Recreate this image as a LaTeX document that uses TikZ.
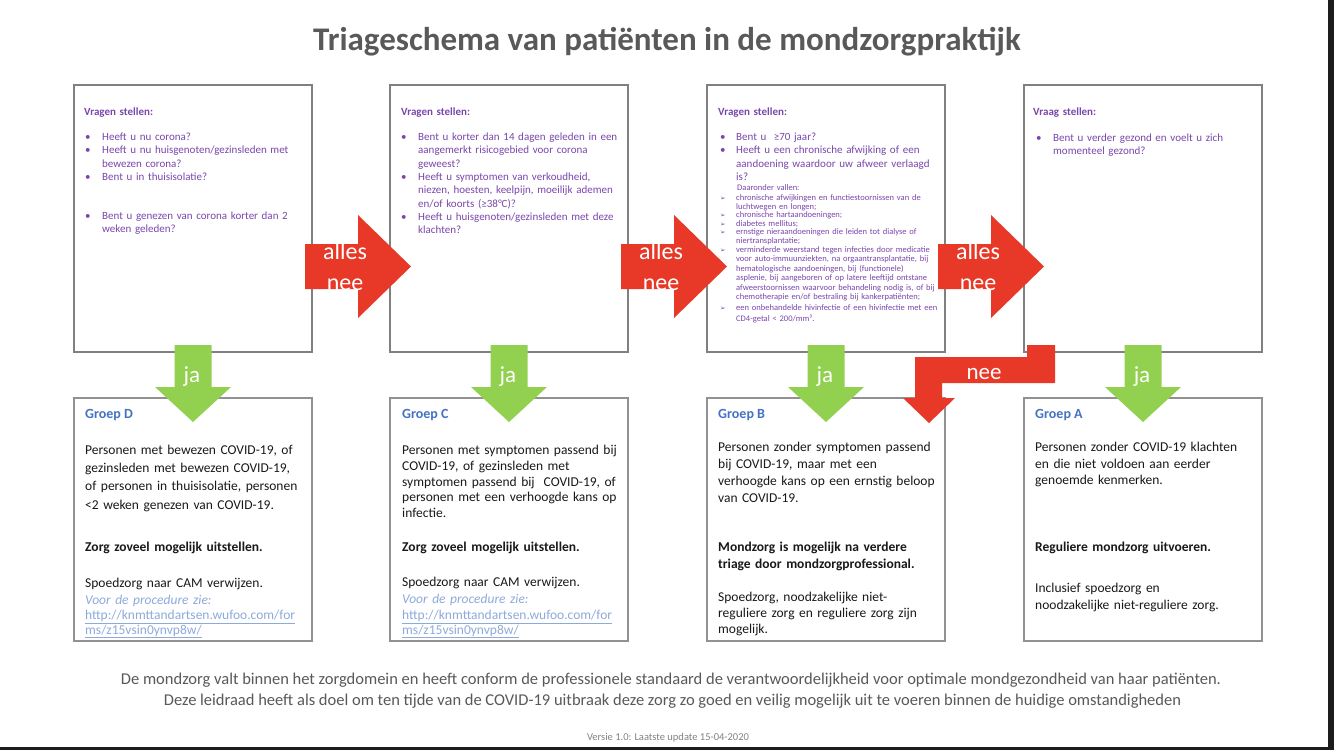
\documentclass[tikz,border=0pt]{standalone}
\usepackage{fontspec}
\setmainfont{Carlito}
\newfontfamily\dejavu{DejaVu Sans}
\definecolor{arrowred}{RGB}{232,56,40}
\definecolor{arrowgreen}{RGB}{146,208,80}
\definecolor{titlegray}{RGB}{89,89,89}
\definecolor{boxgray}{RGB}{128,128,128}
\definecolor{gboxgray}{RGB}{145,145,145}
\definecolor{qpurple}{RGB}{122,70,172}
\definecolor{groupblue}{RGB}{68,114,196}
\definecolor{bodytext}{RGB}{25,25,25}
\definecolor{linkblue}{RGB}{142,170,219}
\definecolor{versgray}{RGB}{130,130,130}
\definecolor{edgeblack}{RGB}{28,28,28}
\tikzset{
  qbox/.style={draw=boxgray, line width=2.2pt, inner sep=0pt},
  gbox/.style={draw=gboxgray, line width=1.5pt, inner sep=0pt},
  qtxt/.style={anchor=base west, inner sep=0pt, text width=260pt, align=left, text=qpurple, font=\fontsize{11}{13.3}\selectfont},
  qhead/.style={qtxt, font=\bfseries\fontsize{11}{13.3}\selectfont},
  smalltxt/.style={qtxt, font=\fontsize{8.5}{9}\selectfont},
  gtitle/.style={anchor=base west, inner sep=0pt, text=groupblue, font=\bfseries\fontsize{14}{16}\selectfont},
  gtxt/.style={anchor=base west, inner sep=0pt, text width=260pt, align=left, text=bodytext, font=\fontsize{13.5}{16}\selectfont},
  linktxt/.style={gtxt, text=linkblue, font=\fontsize{13.5}{14.5}\selectfont},
  arrowlbl/.style={anchor=base, inner sep=0pt, text=white, font=\fontsize{24}{28}\selectfont},
  foot/.style={anchor=base, inner sep=0pt, text=titlegray, font=\fontsize{16.5}{19}\selectfont},
}
\newcommand\qitem[5]{\node[qtxt] (#1b) at (#2,#4) {•}; \node[qtxt] (#1) at (#3,#4) {#5};}
\newcommand\sitem[6][9]{\node[smalltxt] (#2b) at (#3,#5) {{\dejavu\fontsize{6.5}{8}\selectfont ➢}}; \node[smalltxt, font=\fontsize{8.5}{#1}\selectfont] (#2) at (#4,#5) {#6};}
\newcommand\redright[1]{\fill[arrowred] (#1,244) -- ++(53,0) -- ++(0,-29) -- ++(53,51.5) -- ++(-53,51.5) -- ++(0,-29) -- ++(-53,0) -- cycle;}
\newcommand\greendown[1]{\fill[arrowgreen] (#1-18.5,345) -- (#1+18.5,345) -- (#1+18.5,387) -- (#1+38,387) -- (#1,422) -- (#1-38,387) -- (#1-18.5,387) -- cycle;}
\begin{document}
\begin{tikzpicture}[x=1pt,y=-1pt]
\useasboundingbox (0,0) rectangle (1334,750);
\fill[white] (0,0) rectangle (1334,750);
\fill[edgeblack] (0,747) rectangle (1334,750);
\fill[edgeblack] (1328,0) rectangle (1334,750);

% title
\node[font=\bfseries\fontsize{33}{38}\selectfont, text=titlegray, inner sep=0pt] (title) at (667,42) {Triageschema van patiënten in de mondzorgpraktijk};

% question boxes
\node[qbox, minimum width=238pt, minimum height=267pt] (q1) at (193,218.5) {};
\node[qbox, minimum width=238pt, minimum height=267pt] (q2) at (509,218.5) {};
\node[qbox, minimum width=238pt, minimum height=267pt] (q3) at (826,218.5) {};
\node[qbox, minimum width=238pt, minimum height=267pt] (q4) at (1143,218.5) {};
% group boxes
\node[gbox, minimum width=238pt, minimum height=243pt] (g1) at (193,519.5) {};
\node[gbox, minimum width=238pt, minimum height=243pt] (g2) at (509,519.5) {};
\node[gbox, minimum width=238pt, minimum height=243pt] (g3) at (826,519.5) {};
\node[gbox, minimum width=238pt, minimum height=243pt] (g4) at (1143,519.5) {};

% red "alles nee" arrows
\redright{305}
\redright{621}
\redright{938}
\node[arrowlbl] (r1a) at (345,259) {alles};
\node[arrowlbl] (r1n) at (345,290) {nee};
\node[arrowlbl] (r2a) at (661,259) {alles};
\node[arrowlbl] (r2n) at (661,290) {nee};
\node[arrowlbl] (r3a) at (978,259) {alles};
\node[arrowlbl] (r3n) at (978,290) {nee};

% green "ja" arrows
\greendown{193}
\greendown{509}
\greendown{826}
\greendown{1143}
\node[arrowlbl, font=\fontsize{23}{26}\selectfont] (j1) at (192,382) {ja};
\node[arrowlbl, font=\fontsize{23}{26}\selectfont] (j2) at (508,382) {ja};
\node[arrowlbl, font=\fontsize{23}{26}\selectfont] (j3) at (825,382) {ja};
\node[arrowlbl, font=\fontsize{23}{26}\selectfont] (j4) at (1142,382) {ja};

% bent red "nee" arrow
\fill[arrowred] (1055,345) -- (1055,383) -- (942,383) -- (942,398) -- (955,398) -- (929,423) -- (903,398) -- (915,398) -- (915,357) -- (1027,357) -- (1027,345) -- cycle;
\node[arrowlbl, font=\fontsize{23}{26}\selectfont] (nb) at (984,379) {nee};

% box 1
\node[qhead] (q1h) at (84,115.5) {Vragen stellen:};
\qitem{q1a}{85}{102}{140.5}{Heeft u nu corona?}
\qitem{q1b}{85}{102}{153.8}{Heeft u nu huisgenoten/gezinsleden met\\bewezen corona?}
\qitem{q1c}{85}{102}{180.5}{Bent u in thuisisolatie?}
\qitem{q1d}{85}{102}{219.5}{Bent u genezen van corona korter dan 2\\weken geleden?}

% box 2
\node[qhead] (q2h) at (401,115.5) {Vragen stellen:};
\qitem{q2a}{401}{418}{140.5}{Bent u korter dan 14 dagen geleden in een\\aangemerkt risicogebied voor corona\\geweest?}
\qitem{q2b}{401}{418}{180.5}{Heeft u symptomen van verkoudheid,\\niezen, hoesten, keelpijn, moeilijk ademen\\en/of koorts (≥38°C)?}
\qitem{q2c}{401}{418}{220.5}{Heeft u huisgenoten/gezinsleden met deze\\klachten?}

% box 3
\node[qhead] (q3h) at (718,115.5) {Vragen stellen:};
\qitem{q3a}{720}{736}{140.5}{Bent u\ \ ≥70 jaar?}
\qitem{q3b}{720}{736}{153.8}{Heeft u een chronische afwijking of een\\aandoening waardoor uw afweer verlaagd\\is?}
\node[smalltxt] (q3s) at (737,190.5) {Daaronder vallen:};
\sitem{q3s1}{720}{736}{200.5}{chronische afwijkingen en functiestoornissen van de\\luchtwegen en longen;}
\sitem{q3s2}{720}{736}{217.5}{chronische hartaandoeningen;}
\sitem{q3s3}{720}{736}{226}{diabetes mellitus;}
\sitem{q3s4}{720}{736}{234.5}{ernstige nieraandoeningen die leiden tot dialyse of\\niertransplantatie;}
\sitem[9.4]{q3s5}{720}{736}{252.5}{verminderde weerstand tegen infecties door medicatie\\voor auto-immuunziekten, na orgaantransplantatie, bij\\hematologische aandoeningen, bij (functionele)\\asplenie, bij aangeboren of op latere leeftijd ontstane\\afweerstoornissen waarvoor behandeling nodig is, of bij\\chemotherapie en/of bestraling bij kankerpatiënten;}
\sitem[11]{q3s6}{720}{736}{310.5}{een onbehandelde hivinfectie of een hivinfectie met een\\CD4-getal < 200/mm³.}

% box 4
\node[qhead] (q4h) at (1033,115.5) {Vraag stellen:};
\qitem{q4a}{1036}{1053}{141.5}{Bent u verder gezond en voelt u zich\\momenteel gezond?}

% Groep D
\node[gtitle] (gDh) at (85,418.5) {Groep D};
\node[gtxt, font=\fontsize{13.5}{18.2}\selectfont] (gD1) at (85,454.5) {Personen met bewezen COVID-19, of\\gezinsleden met bewezen COVID-19,\\of personen in thuisisolatie, personen\\<2 weken genezen van COVID-19.};
\node[gtxt, font=\bfseries\fontsize{13.5}{16}\selectfont] (gD2) at (85,551.5) {Zorg zoveel mogelijk uitstellen.};
\node[gtxt] (gD3) at (85,587.5) {Spoedzorg naar CAM verwijzen.};
\node[linktxt] (gD4) at (85,604.5) {\itshape Voor de procedure zie:};
\node[linktxt] (gD5) at (85,619.5) {\underline{http://knmttandartsen.wufoo.com/for}\\\underline{ms/z15vsin0ynvp8w/}};

% Groep C
\node[gtitle] (gCh) at (402,418.5) {Groep C};
\node[gtxt, font=\fontsize{13.5}{15.8}\selectfont] (gC1) at (402,454.5) {Personen met symptomen passend bij\\COVID-19, of gezinsleden met\\symptomen passend bij\ \ COVID-19, of\\personen met een verhoogde kans op\\infectie.};
\node[gtxt, font=\bfseries\fontsize{13.5}{16}\selectfont] (gC2) at (402,551.5) {Zorg zoveel mogelijk uitstellen.};
\node[gtxt] (gC3) at (402,586.5) {Spoedzorg naar CAM verwijzen.};
\node[linktxt] (gC4) at (402,603.5) {\itshape Voor de procedure zie:};
\node[linktxt] (gC5) at (402,619.5) {\underline{http://knmttandartsen.wufoo.com/for}\\\underline{ms/z15vsin0ynvp8w/}};

% Groep B
\node[gtitle] (gBh) at (718,418.5) {Groep B};
\node[gtxt, font=\fontsize{13.5}{17}\selectfont] (gB1) at (718,451.5) {Personen zonder symptomen passend\\bij COVID-19, maar met een\\verhoogde kans op een ernstig beloop\\van COVID-19.};
\node[gtxt, font=\bfseries\fontsize{13.5}{16.5}\selectfont] (gB2) at (718,551.5) {Mondzorg is mogelijk na verdere\\triage door mondzorgprofessional.};
\node[gtxt] (gB3) at (718,601.5) {Spoedzorg, noodzakelijke niet-\\reguliere zorg en reguliere zorg zijn\\mogelijk.};

% Groep A
\node[gtitle] (gAh) at (1035,418.5) {Groep A};
\node[gtxt, font=\fontsize{13.5}{16.5}\selectfont] (gA1) at (1035,451.5) {Personen zonder COVID-19 klachten\\en die niet voldoen aan eerder\\genoemde kenmerken.};
\node[gtxt, font=\bfseries\fontsize{13.5}{16}\selectfont] (gA2) at (1035,551.5) {Reguliere mondzorg uitvoeren.};
\node[gtxt, font=\fontsize{13.5}{17}\selectfont] (gA3) at (1035,592.5) {Inclusief spoedzorg en\\noodzakelijke niet-reguliere zorg.};

% footer
\node[foot] (f1) at (671,684.5) {De mondzorg valt binnen het zorgdomein en heeft conform de professionele standaard de verantwoordelijkheid voor optimale mondgezondheid van haar patiënten.};
\node[foot] (f2) at (672.5,705) {Deze leidraad heeft als doel om ten tijde van de COVID-19 uitbraak deze zorg zo goed en veilig mogelijk uit te voeren binnen de huidige omstandigheden};
\node[anchor=base, inner sep=0pt, text=versgray, font=\fontsize{10.5}{12}\selectfont] (ver) at (668,740) {Versie 1.0: Laatste update 15-04-2020};
\end{tikzpicture}
\end{document}
